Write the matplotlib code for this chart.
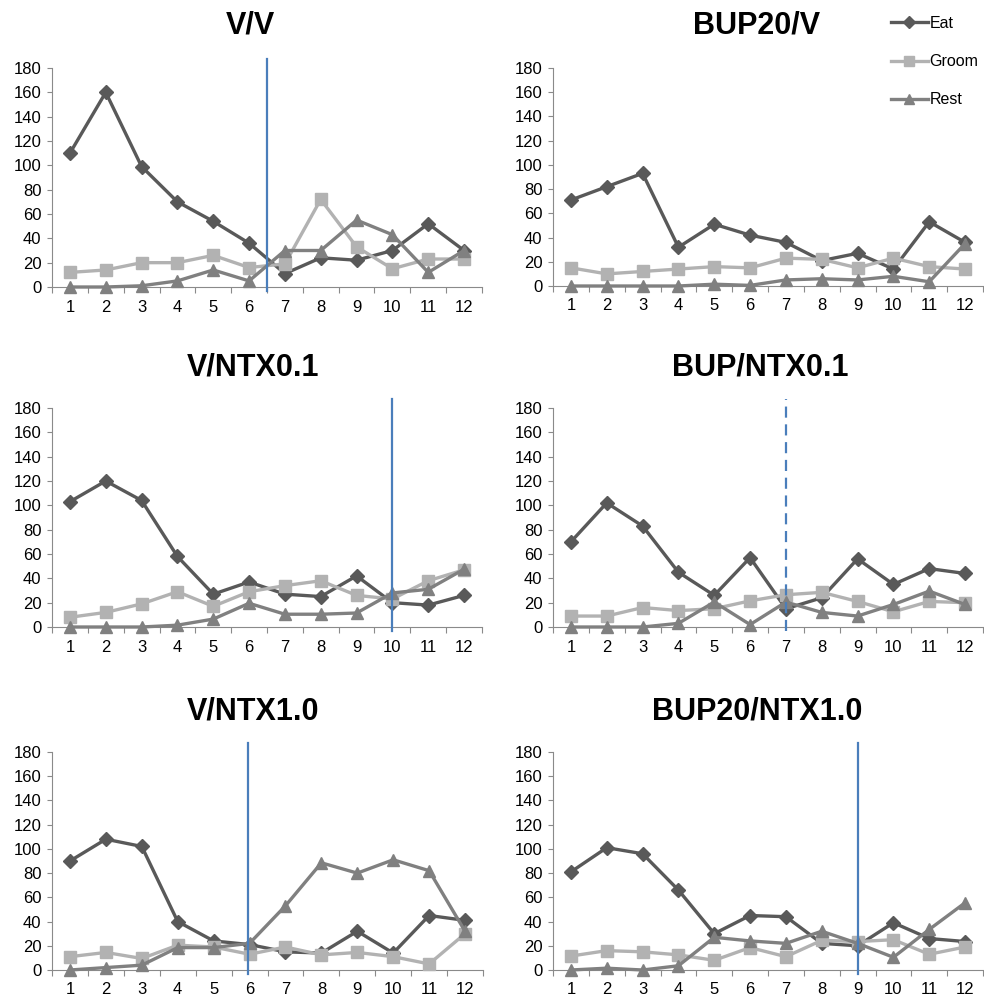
import numpy as np
import matplotlib
matplotlib.use("Agg")
from matplotlib import pyplot as plt

plt.rcParams['font.family'] = ['Liberation Sans', 'DejaVu Sans']

hours = list(range(1, 13))
titles = ["V/V", "BUP20/V", "V/NTX0.1", "BUP/NTX0.1", "V/NTX1.0", "BUP20/NTX1.0"]

# Eat / Groom / Rest per panel
eat_vv = [110, 160, 99, 70, 54, 36, 11, 24, 22, 30, 52, 30]
groom_vv = [12, 14, 20, 20, 26, 16, 19, 72, 33, 15, 23, 23]
rest_vv = [0, 0, 1, 5, 14, 5, 30, 30, 55, 43, 12, 30]

eat_bv = [71, 82, 93, 32, 51, 42, 36, 21, 27, 14, 53, 36]
groom_bv = [15, 10, 12, 14, 16, 15, 23, 22, 15, 23, 16, 14]
rest_bv = [0, 0, 0, 0, 1.5, 0.5, 5, 6, 5, 8, 3.5, 35]

eat_vn01 = [103, 120, 104, 58, 27, 37, 27, 25, 42, 20, 18, 26]
groom_vn01 = [8, 12, 19, 29, 17, 29, 34, 38, 26, 23, 38, 47]
rest_vn01 = [0, 0, 0, 1.5, 6.5, 19.5, 10.5, 10.5, 11.5, 28, 31, 47.5]

eat_bn01 = [70, 102, 83, 45, 26, 57, 15, 24, 56, 35, 48, 44]
groom_bn01 = [9, 9, 16, 13.5, 15, 21.5, 26.5, 28.5, 21, 12.5, 21, 20]
rest_bn01 = [0, 0, 0, 3, 20.5, 2, 20.5, 12, 9, 18.5, 29.5, 18.5]

eat_vn10 = [90, 108, 102, 40, 24, 21, 15, 14, 32, 14, 45, 41]
groom_vn10 = [11, 14.5, 9.5, 20.5, 19, 13, 19, 12.5, 14.5, 11, 5, 30]
rest_vn10 = [0, 2, 4, 18.5, 18.5, 22, 53, 88.5, 80, 91, 82, 32]

eat_bn10 = [81, 101, 96, 66, 30, 45, 44, 22, 20, 39, 26, 23.5]
groom_bn10 = [11.5, 16, 15, 12.5, 8, 18.5, 11, 24.5, 23.5, 25, 13, 19]
rest_bn10 = [0, 1.5, 0, 3.5, 27, 24, 22, 32, 22, 10.5, 33.5, 55.5]

eat_all = [eat_vv, eat_bv, eat_vn01, eat_bn01, eat_vn10, eat_bn10]
groom_all = [groom_vv, groom_bv, groom_vn01, groom_bn01, groom_vn10, groom_bn10]
rest_all = [rest_vv, rest_bv, rest_vn01, rest_bn01, rest_vn10, rest_bn10]

# marker line per panel (x position, dashed?), None = no line
vlines = [(6.5, False), None, (10, False), (7, True), (5.95, False), (9, False)]

W, H = 984, 998
fig = plt.figure(figsize=(W / 100, H / 100), dpi=100)

# axes boxes in pixels: left, right, top (y=180), bottom (y=0)
boxes = [(52, 482, 68, 287), (553, 983, 68, 286),
         (52, 482, 408, 627), (553, 983, 408, 627),
         (52, 483, 752, 970), (553, 983, 752, 970)]
title_pos = [(250, 26), (757, 26), (253, 367), (760, 367), (253, 711), (757, 711)]

c_eat = '#595959'
c_groom = '#b2b2b2'
c_rest = '#808080'
c_axis = '#8a8a8a'

for i in range(6):
    l, r, t, b = boxes[i]
    ax = fig.add_axes([l / W, 1 - b / H, (r - l) / W, (b - t) / H])
    ax.plot(hours, eat_all[i], color=c_eat, lw=2.4, marker='D', ms=7.5, clip_on=False, zorder=3, label='Eat')
    ax.plot(hours, groom_all[i], color=c_groom, lw=2.4, marker='s', ms=8.5, clip_on=False, zorder=3, label='Groom')
    ax.plot(hours, rest_all[i], color=c_rest, lw=2.4, marker='^', ms=9, clip_on=False, zorder=3, label='Rest')

    ax.set_xlim(0.5, 12.5)
    ax.set_ylim(0, 180)
    ax.set_yticks(np.arange(0, 181, 20))
    ax.set_xticks(np.arange(0.5, 12.6, 1))
    ax.set_xticklabels([])
    ax.set_xticks(hours, minor=True)
    ax.set_xticklabels([str(h) for h in hours], minor=True)
    ax.tick_params(axis='x', which='major', direction='out', length=4, width=0.8, color=c_axis)
    ax.tick_params(axis='x', which='minor', length=0, pad=9, labelsize=12)
    ax.tick_params(axis='y', direction='out', length=3.5, width=0.8, color=c_axis, pad=4, labelsize=12)
    for s in ['top', 'right']:
        ax.spines[s].set_visible(False)
    for s in ['left', 'bottom']:
        ax.spines[s].set_color(c_axis)
        ax.spines[s].set_linewidth(0.8)

    if vlines[i] is not None:
        xv, dashed = vlines[i]
        ax.axvline(xv, ymin=-0.02, ymax=1.04, color='#4a7ebb', lw=1.6,
                   ls=(0, (5, 3)) if dashed else '-', clip_on=False, zorder=4)

    tx, ty = title_pos[i]
    fig.text(tx / W, 1 - ty / H, titles[i], ha='center', va='center',
             fontsize=22, fontweight='bold')

    if i == 1:
        handles, labels = ax.get_legend_handles_labels()

fig.legend(handles, labels, loc='upper left', bbox_to_anchor=(891 / W, 1 - 16 / H),
           frameon=False, fontsize=11.5, handlelength=2.3, handletextpad=0.1,
           labelspacing=1.45, borderaxespad=0, borderpad=0, markerscale=0.8)

fig.savefig('out.png', dpi=100)
